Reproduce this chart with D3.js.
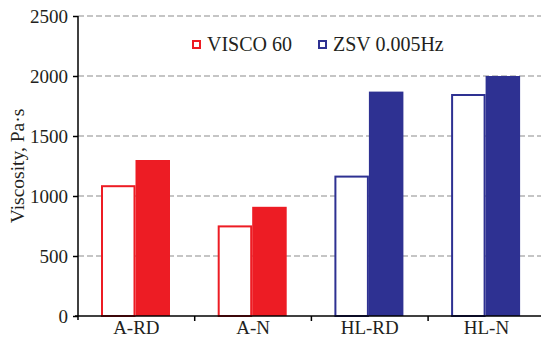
<!DOCTYPE html>
<html><head><meta charset="utf-8">
<script src="https://cdn.jsdelivr.net/npm/d3@7"></script>
<style>body{margin:0;background:#fff}text{font-family:"Liberation Serif","Times New Roman",serif}</style>
</head><body><svg id="c" width="541" height="339"></svg>
<script>
const categories = ["A-RD","A-N","HL-RD","HL-N"];
const seriesNames = ["VISCO 60","ZSV 0.005Hz"];
const visco60 = [1090, 755, 1170, 1850];
const zsv = [1300, 910, 1870, 2000];
const groupColors = ["#ED1C24","#ED1C24","#2E3192","#2E3192"];
const yTicks = [0,500,1000,1500,2000,2500];

const svg = d3.select("#c");
const x = d3.scaleBand().domain(categories).range([78, 78+4*116.7]).paddingInner(0).paddingOuter(0);
const y = d3.scaleLinear().domain([0,2500]).range([316,16]);
const inner = d3.scaleBand().domain([0,1]).range([23, 23+69]);

// grid
svg.append("g").selectAll("line").data(yTicks.filter(d=>d>0)).join("line")
  .attr("x1",78).attr("x2",541).attr("y1",d=>y(d)).attr("y2",d=>y(d))
  .attr("stroke","#8c8c8c").attr("stroke-width",1.2).attr("stroke-dasharray","6,3");

// bars
const g = svg.append("g");
categories.forEach((c,i)=>{
  const x0 = x(c);
  const bw = inner.bandwidth();
  g.append("rect").attr("x",x0+inner(0)+1).attr("y",y(visco60[i])+1)
    .attr("width",bw-2).attr("height",y(0)-y(visco60[i])-1)
    .attr("fill","#fff").attr("stroke",groupColors[i]).attr("stroke-width",2);
  g.append("rect").attr("x",x0+inner(1)).attr("y",y(zsv[i]))
    .attr("width",bw).attr("height",y(0)-y(zsv[i]))
    .attr("fill",groupColors[i]);
});

// y axis
const ya = svg.append("g").attr("transform","translate(78,0)")
  .call(d3.axisLeft(y).tickValues(yTicks).tickSize(5).tickPadding(5).tickFormat(d3.format("d")));
ya.select(".domain").attr("stroke","#000").attr("stroke-width",1.5).attr("d","M0,16V320");
ya.selectAll(".tick line").attr("stroke","#000").attr("stroke-width",1.5);
ya.selectAll("text").attr("font-size",19).attr("fill","#231f20").attr("font-family","Liberation Serif, serif");

// x axis
const xa = svg.append("g").attr("transform","translate(0,316)")
  .call(d3.axisBottom(x).tickSize(0).tickPadding(5));
xa.select(".domain").remove();
xa.selectAll("text").attr("font-size",19).attr("fill","#231f20").attr("font-family","Liberation Serif, serif");
svg.append("line").attr("x1",75).attr("x2",541).attr("y1",316).attr("y2",316).attr("stroke","#000").attr("stroke-width",1.5);
svg.append("g").selectAll("line").data(categories.slice(1)).join("line")
  .attr("x1",d=>x(d)).attr("x2",d=>x(d)).attr("y1",316).attr("y2",321)
  .attr("stroke","#000").attr("stroke-width",1.5);

// y title
svg.append("text").attr("transform","translate(24,166) rotate(-90)")
  .attr("text-anchor","middle").attr("font-size",19.5).attr("fill","#231f20")
  .text("Viscosity, Pa·s");

// legend
const leg = [{n:seriesNames[0],c:"#ED1C24",x:193,tx:207},{n:seriesNames[1],c:"#2E3192",x:319,tx:333}];
leg.forEach(d=>{
  svg.append("rect").attr("x",d.x).attr("y",41).attr("width",7).attr("height",7)
    .attr("fill","#fff").attr("stroke",d.c).attr("stroke-width",2);
  svg.append("text").attr("x",d.tx).attr("y",51).attr("font-size",20).attr("fill","#231f20").text(d.n);
});
</script></body></html>
